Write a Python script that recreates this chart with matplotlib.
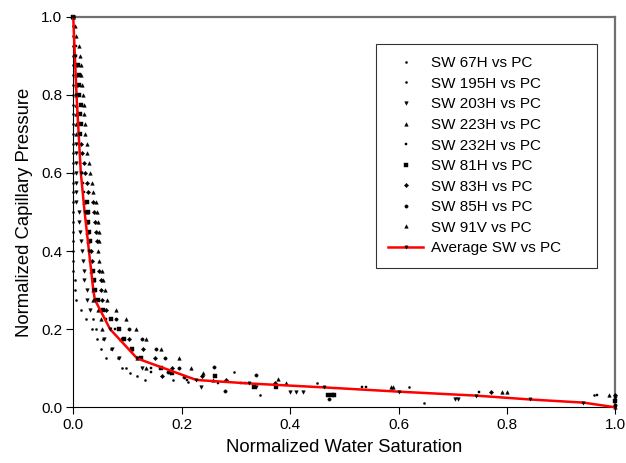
import numpy as np
import matplotlib
matplotlib.use("Agg")
import matplotlib.pyplot as plt

N = np.nan

# Normalized capillary pressure levels (shared by the upper part of every series)
pc_levels = [1.0, 0.975, 0.95, 0.925, 0.9, 0.875, 0.85, 0.825, 0.8, 0.775,
             0.75, 0.725, 0.7, 0.675, 0.65, 0.625, 0.6, 0.575, 0.55, 0.525,
             0.5, 0.475, 0.45, 0.425, 0.4, 0.375, 0.35, 0.325, 0.3, 0.275,
             0.25, 0.225, 0.2, 0.175, 0.15, 0.125, 0.1]

# Normalized water saturation of each sample at those levels
sw67h = [0, 0, 0, 0, 0, 0, 0, 0, 0, 0, 0, 0, 0, 0, 0, 0, 0, 0, 0, 0, 0, 0, 0, 0, 0, 0, 0,
         .003, .004, .005, .014, .023, .034, .043, .051, .060, .090]
sw195h = [0] + [N] * 30 + [.036, .042, .054, .069, .082, .097]
sw203h = [0] + [N] * 12 + [.005, .005, .005, .006, .006, .006, .005, .010, .010, .012, .014,
                           .016, .018, .020, .020, .025, .026, .031, N, N, .057, .072, .085, .126]
sw223h = [0, N, N, N, N, .005, .006, .006, .005, .005, .005, .005, .006, N, N, N, N, N, N,
          .020, .025, .025, .026, .028, N, N, .032, .036, .036, .036, .045, .051, .053,
          .088, .106, .118, .134]
sw232h = [0, N, N, .005, .005, N, N, N, N, N, N, N, N, .011, .012, .013, .017, .018, .020,
          N, N, N, N, N, .029, .031, N, N, N, N, N, .060, .077, N, N, N, .143]
sw81h = [0, N, N, N, N, .009, .0105, .011, .011, .015, .012, .015, .012, N, N, N, N, N, N,
         .025, .028, .028, .029, .031, N, N, .036, .039, .040, .045, .055, .069, .085,
         .094, .109, .125, .161]
sw83h = [0] + [N] * 12 + [.015, .017, .020, .021, .025, .027, .036, .039, .040, .042, .043,
                          .032, .034, .048, .051, .051, .053, .061, N, N, .103, .129, .151, .183]
sw85h = [0] + [N] * 30 + [.079, .103, .126, .152, .170, .195]
sw91v = [0, .003, .005, .0105, .012, .015, .015, .017, .018, .020, .020, .021, .021, .025,
         .026, .029, .031, .034, .037, .042, .043, .045, .047, .047, .046, .048, .053, .054,
         .059, .062, .079, .097, .115, .134, .161, .195, .218]

# Low-pressure tails of each sample (saturation, pressure)
tail67h_sw = [.104, .132, .212, .345, .647, 1.0]
tail67h_pc = [.089, .070, .064, .031, .012, 0.0]
tail195h_sw = [.118, .184, .297, .449, .619, .96]
tail195h_pc = [.080, .070, .091, .063, .053, .031]
tail203h_sw = [.178, .236, .337, .399, .41, .423, .705, .71, 1.0]
tail203h_pc = [.089, .051, .051, .040, .040, .040, .020, .020, .023]
tail223h_sw = [.239, .258, .392, .586, .59, .79, .80, .988]
tail223h_pc = [.089, .070, .061, .051, .051, .040, .040, .031]
tail232h_sw = [.144, .209, .267, .31, .316, .532, .54, .749, .966]
tail232h_pc = [.090, .070, .061, .061, .061, .051, .051, .040, .031]
tail81h_sw = [.182, .261, .334, .374, .469, .477, .481, 1.0]
tail81h_pc = [.089, .080, .051, .051, .031, .031, .031, .015]
tail83h_sw = [.164, .238, .282, .373, .77, 1.0]
tail83h_pc = [.081, .080, .070, .061, .040, .031]
tail85h_sw = [.174, .204, .259, .337, .279, .471, 1.0]
tail85h_pc = [.090, .078, .102, .083, .043, .020, .006]
tail91v_sw = [.377, 1.0]
tail91v_pc = [.072, 0.0]

# Average curve
avg_sw = [0.0, 0.003, 0.006, 0.010, 0.014, 0.021, 0.029, 0.037, 0.040, 0.068, 0.118,
          0.227, 0.325, 0.462, 0.601, 0.742, 0.843, 0.941, 1.0]
avg_pc = [1.0, 0.9, 0.8, 0.7, 0.6, 0.5, 0.4, 0.3, 0.275, 0.2, 0.125,
          0.07, 0.061, 0.051, 0.040, 0.030, 0.020, 0.012, 0.0]

labels = ["SW 67H vs PC", "SW 195H vs PC", "SW 203H vs PC", "SW 223H vs PC",
          "SW 232H vs PC", "SW 81H vs PC", "SW 83H vs PC", "SW 85H vs PC", "SW 91V vs PC"]

series = [(sw67h, tail67h_sw, tail67h_pc), (sw195h, tail195h_sw, tail195h_pc),
          (sw203h, tail203h_sw, tail203h_pc), (sw223h, tail223h_sw, tail223h_pc),
          (sw232h, tail232h_sw, tail232h_pc), (sw81h, tail81h_sw, tail81h_pc),
          (sw83h, tail83h_sw, tail83h_pc), (sw85h, tail85h_sw, tail85h_pc),
          (sw91v, tail91v_sw, tail91v_pc)]
markers = ['.', '.', 'v', '^', 's', 's', 'D', 'o', '^']
msizes = [3.0, 3.0, 2.6, 2.6, 2.0, 2.2, 2.2, 2.4, 2.6]

plt.rcParams['font.family'] = ['Liberation Sans', 'DejaVu Sans']

fig = plt.figure(figsize=(6.26, 4.63), dpi=100)
ax = fig.add_axes([0.117, 0.1203, 0.8661, 0.8437])

for (up, tsw, tpc), lab, mk, ms in zip(series, labels, markers, msizes):
    xs = list(up) + list(tsw)
    ys = list(pc_levels) + list(tpc)
    ax.plot(xs, ys, linestyle='none', marker=mk, ms=ms, color='black',
            markeredgewidth=0.3, label=lab, clip_on=False, zorder=3)

ax.plot(avg_sw, avg_pc, color='red', lw=1.8, marker='v', ms=2.4,
        markerfacecolor='black', markeredgecolor='black', markeredgewidth=0.3,
        label="Average SW vs PC", zorder=4, clip_on=False)

ax.set_xlim(0, 1)
ax.set_ylim(0, 1)
ticks = [0.0, 0.2, 0.4, 0.6, 0.8, 1.0]
ax.set_xticks(ticks)
ax.set_yticks(ticks)
ax.set_xticklabels([f"{t:.1f}" for t in ticks])
ax.set_yticklabels([f"{t:.1f}" for t in ticks])
ax.tick_params(direction='out', length=5, width=0.8, labelsize=11, pad=3)
ax.set_xlabel("Normalized Water Saturation", fontsize=13.3, labelpad=5)
ax.set_ylabel("Normalized Capillary Pressure", fontsize=13.3, labelpad=6)

for s in ['left', 'bottom']:
    ax.spines[s].set_linewidth(0.8)
    ax.spines[s].set_color('black')
for s in ['top', 'right']:
    ax.spines[s].set_linewidth(1.6)
    ax.spines[s].set_color('#707070')

leg = ax.legend(loc='upper left', bbox_to_anchor=(0.5583, 0.35, 0.4076, 0.58),
                mode='expand', borderaxespad=0,
                fontsize=11, frameon=True, fancybox=False, edgecolor='black',
                handlelength=2.3, labelspacing=0.43, borderpad=0.8,
                handletextpad=0.5, markerscale=1.0)
leg.get_frame().set_linewidth(0.8)

fig.savefig("out.png", dpi=100)
